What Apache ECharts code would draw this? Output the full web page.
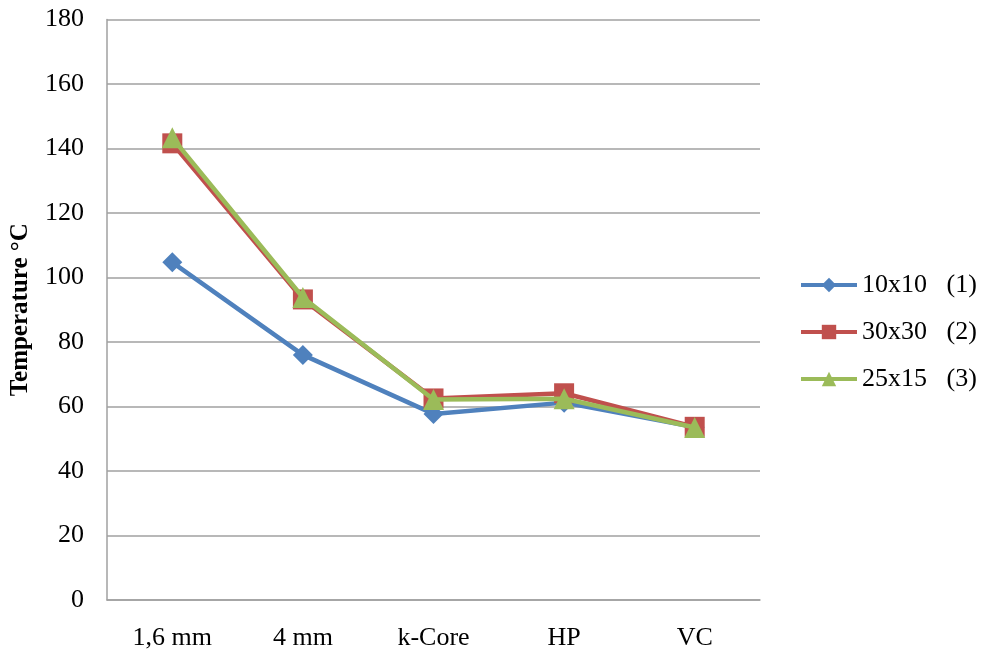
<!DOCTYPE html>
<html>
<head>
<meta charset="utf-8">
<script src="https://cdn.jsdelivr.net/npm/echarts@6/dist/echarts.min.js"></script>
<style>
html,body{margin:0;padding:0;background:#fff;}
#chart{width:981px;height:655px;}
</style>
</head>
<body>
<div id="chart"></div>
<script>
// Measurement positions along the x axis
const categories = ['1,6 mm', '4 mm', 'k-Core', 'HP', 'VC'];
// Temperatures (°C) for each mesh size
const seriesNames = ['10x10   (1)', '30x30   (2)', '25x15   (3)'];
const mesh10x10 = [104.7, 76.0, 57.7, 61.2, 53.6];
const mesh30x30 = [141.6, 93.2, 62.5, 64.1, 53.7];
const mesh25x15 = [143.3, 93.8, 62.2, 62.4, 53.5];
const yTicks = { min: 0, max: 180, interval: 20 };

const colors = ['#4F81BD', '#C0504D', '#9BBB59'];
const symbols = ['diamond', 'rect', 'triangle'];
const symbolSizes = [20, 20, 21];
const values = [mesh10x10, mesh30x30, mesh25x15];

const serif = '"Liberation Serif", "DejaVu Serif", serif';

const chart = echarts.init(document.getElementById('chart'));
chart.setOption({
  animation: false,
  backgroundColor: '#ffffff',
  grid: { left: 105, right: 221, top: 19.5, bottom: 55, containLabel: false },
  legend: {
    orient: 'vertical',
    left: 794,
    top: 267,
    itemWidth: 56,
    itemHeight: 18,
    itemGap: 21,
    lineStyle: { width: 4 },
    textStyle: { fontFamily: serif, fontSize: 26, lineHeight: 22, color: '#000', padding: [0, 0, 0, 0] },
    data: seriesNames
  },
  xAxis: {
    type: 'category',
    data: categories,
    boundaryGap: true,
    axisLine: { show: true, lineStyle: { color: '#a0a0a0', width: 1.5 } },
    axisTick: { show: false },
    axisLabel: { fontFamily: serif, fontSize: 26, color: '#000', margin: 25 }
  },
  yAxis: {
    type: 'value',
    min: yTicks.min,
    max: yTicks.max,
    interval: yTicks.interval,
    name: 'Temperature °C',
    nameLocation: 'middle',
    nameGap: 74,
    nameTextStyle: { fontFamily: serif, fontSize: 25, fontWeight: 'bold', color: '#000' },
    axisLine: { show: true, lineStyle: { color: '#a0a0a0', width: 1.5 } },
    axisTick: { show: false },
    axisLabel: { fontFamily: serif, fontSize: 26, color: '#000', margin: 23 },
    splitLine: { show: true, lineStyle: { color: '#a0a0a0', width: 1.5 } }
  },
  series: seriesNames.map((name, i) => ({
    name: name,
    type: 'line',
    data: values[i],
    symbol: symbols[i],
    symbolSize: symbolSizes[i],
    showAllSymbol: true,
    lineStyle: { color: colors[i], width: 4.5 },
    itemStyle: { color: colors[i] },
    z: 2 + i
  }))
});
</script>
</body>
</html>
